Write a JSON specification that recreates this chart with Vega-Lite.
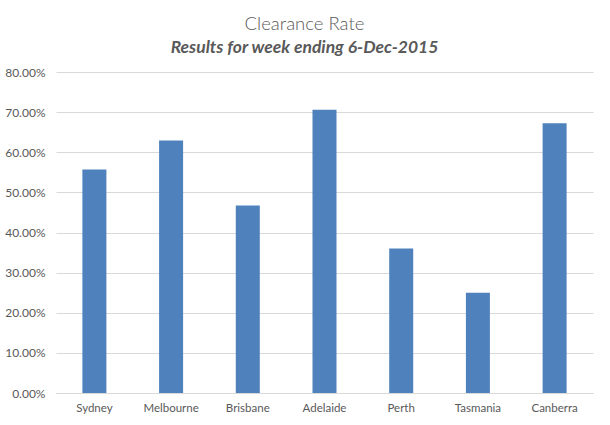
{
  "$schema": "https://vega.github.io/schema/vega-lite/v6.json",
  "autosize": "none",
  "padding": {"left": 56, "top": 72, "right": 17, "bottom": 32},
  "width": 537,
  "height": 321,
  "background": "white",
  "title": {
    "text": "Clearance Rate",
    "subtitle": "Results for week ending 6-Dec-2015",
    "anchor": "middle",
    "frame": "group",
    "dx": -20,
    "offset": 10,
    "font": "Lato",
    "fontSize": 18.5,
    "fontWeight": 300,
    "color": "#595959",
    "subtitleFont": "Lato",
    "subtitleFontSize": 17.5,
    "subtitleFontWeight": "bold",
    "subtitleFontStyle": "italic",
    "subtitleColor": "#595959",
    "subtitlePadding": 5
  },
  "data": {
    "values": [
      {"city": "Sydney", "rate": 0.557},
      {"city": "Melbourne", "rate": 0.629},
      {"city": "Brisbane", "rate": 0.467},
      {"city": "Adelaide", "rate": 0.706},
      {"city": "Perth", "rate": 0.360},
      {"city": "Tasmania", "rate": 0.250},
      {"city": "Canberra", "rate": 0.672}
    ]
  },
  "mark": {"type": "bar", "color": "#4F81BD"},
  "encoding": {
    "x": {
      "field": "city",
      "type": "nominal",
      "sort": null,
      "title": null,
      "scale": {"paddingInner": 0.687, "paddingOuter": 0.344},
      "axis": {
        "labelAngle": 0,
        "ticks": false,
        "domainColor": "#d9d9d9",
        "labelPadding": 9,
        "labelFont": "Lato",
        "labelFontSize": 11.5,
        "labelColor": "#595959"
      }
    },
    "y": {
      "field": "rate",
      "type": "quantitative",
      "title": null,
      "scale": {"domain": [0, 0.8]},
      "axis": {
        "values": [0, 0.1, 0.2, 0.3, 0.4, 0.5, 0.6, 0.7, 0.8],
        "format": ".2%",
        "domain": false,
        "ticks": false,
        "gridColor": "#d9d9d9",
        "labelPadding": 11,
        "labelFont": "Lato",
        "labelFontSize": 12,
        "labelColor": "#595959"
      }
    }
  },
  "config": {"view": {"stroke": null}}
}
